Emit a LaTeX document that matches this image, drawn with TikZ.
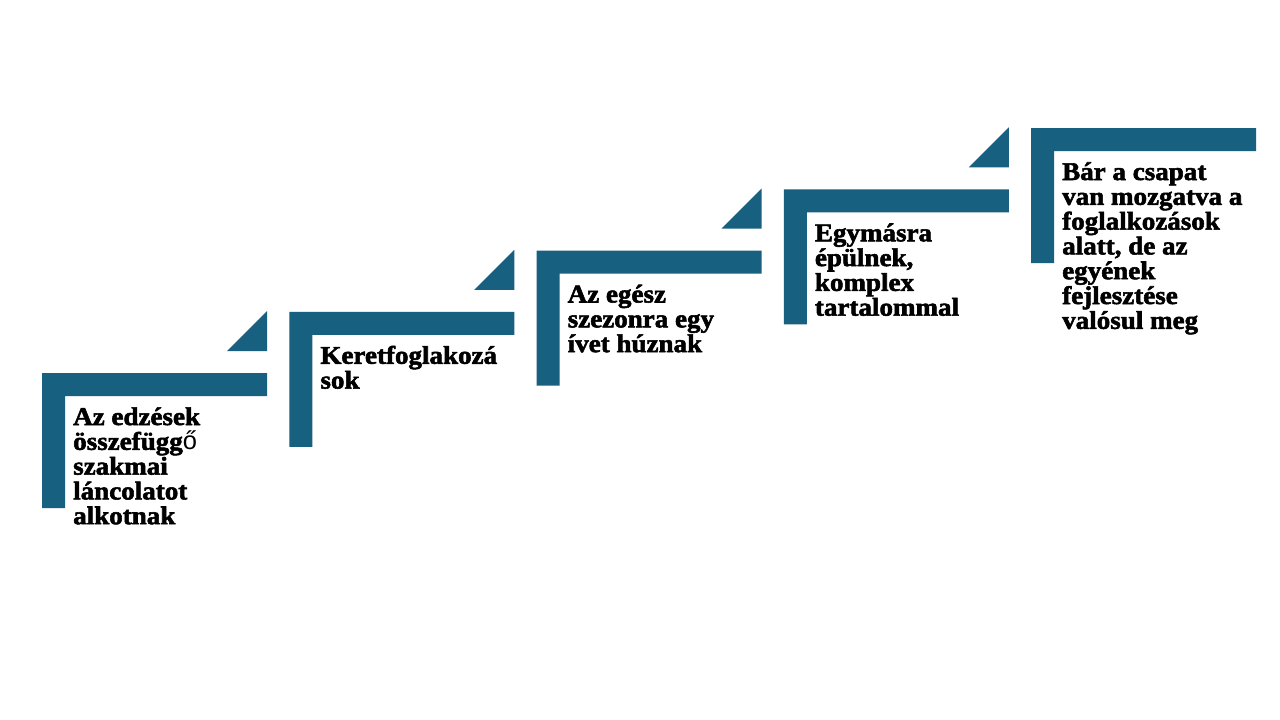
\documentclass[tikz,border=0pt]{standalone}
\usepackage{fontspec}
\setmainfont{Liberation Serif}[BoldFeatures={FakeBold=2.2,FakeStretch=1.06}]
\newfontfamily\fallbackfont{Liberation Sans}
\definecolor{stepblue}{RGB}{23,96,128}
\newcommand\stepcontent[1]{\parbox[t]{240pt}{\raggedright\fontsize{25.5}{24.8}\selectfont\bfseries #1}}
\tikzset{
  stepbar/.style={fill=stepblue, draw=none},
  steptext/.style={anchor=base west, inner sep=0pt, text=black},
}
\begin{document}
\begin{tikzpicture}[x=1pt,y=-1pt]
\useasboundingbox (0,0) rectangle (1280,720);
\fill[white] (0,0) rectangle (1280,720);
% step corners (L shapes) and triangles
\foreach \i in {0,1,2,3,4}{
  \pgfmathsetmacro\bx{42+247.25*\i}
  \pgfmathsetmacro\by{373-61.25*\i}
  \fill[stepbar] (\bx,\by) -- ++(225,0) -- ++(0,23) -- ++(-202,0) -- ++(0,112) -- ++(-23,0) -- cycle;
  \coordinate (tp\i) at (\bx+31,\by+52);
}
\foreach \i in {0,1,2,3}{
  \pgfmathsetmacro\bx{42+247.25*\i}
  \pgfmathsetmacro\by{373-61.25*\i}
  \fill[stepbar] (\bx+185,\by-22) -- (\bx+225,\by-22) -- (\bx+225,\by-62) -- cycle;
}
\node[steptext] (t1) at (tp0) {\stepcontent{Az edzések\\összefügg{\fallbackfont\mdseries ő}\\szakmai\\láncolatot\\alkotnak}};
\node[steptext] (t2) at (tp1) {\stepcontent{Keretfoglakozá\\sok}};
\node[steptext] (t3) at (tp2) {\stepcontent{Az egész\\szezonra egy\\ívet húznak}};
\node[steptext] (t4) at (tp3) {\stepcontent{Egymásra\\épülnek,\\komplex\\tartalommal}};
\node[steptext] (t5) at (tp4) {\stepcontent{Bár a csapat\\van mozgatva a\\foglalkozások\\alatt, de az\\egyének\\fejlesztése\\valósul meg}};
\end{tikzpicture}
\end{document}
